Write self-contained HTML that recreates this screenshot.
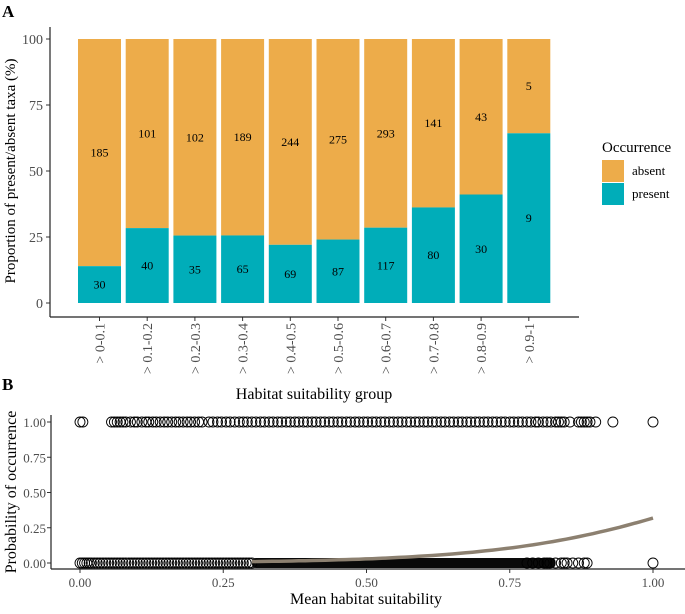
<!DOCTYPE html>
<html><head><meta charset="utf-8"><style>
body{margin:0;background:#fff}
svg text{font-family:"Liberation Serif",serif}
</style></head><body>
<svg id="c" width="685" height="609" xmlns="http://www.w3.org/2000/svg">
<text x="2" y="17" font-size="17" font-weight="bold">A</text>
<text x="2" y="390" font-size="17" font-weight="bold">B</text>
<g id="pa"></g>
<g id="pb"></g>
</svg>
<script>
const categories=["> 0-0.1","> 0.1-0.2","> 0.2-0.3","> 0.3-0.4","> 0.4-0.5","> 0.5-0.6","> 0.6-0.7","> 0.7-0.8","> 0.8-0.9","> 0.9-1"];
const presentCounts=[30,40,35,65,69,87,117,80,30,9];
const absentCounts=[185,101,102,189,244,275,293,141,43,5];
const yTicksA=[0,25,50,75,100];
const xTicksB=[0,0.25,0.5,0.75,1];
const xTickLabelsB=["0.00","0.25","0.50","0.75","1.00"];
const yTicksB=[0,0.25,0.5,0.75,1];
const yTickLabelsB=["0.00","0.25","0.50","0.75","1.00"];
const presentPoints=[0.0,0.005,0.055,0.06,0.065,0.07,0.075,0.08,0.088,0.095,0.1,0.108,0.115,0.12,0.127,0.133,0.14,0.147,0.153,0.16,0.167,0.173,0.18,0.187,0.193,0.2,0.207,0.213,0.225,0.232,0.24,0.247,0.255,0.262,0.27,0.278,0.285,0.292,0.3,0.307,0.315,0.322,0.33,0.337,0.345,0.352,0.36,0.367,0.375,0.382,0.39,0.397,0.405,0.412,0.42,0.427,0.435,0.442,0.45,0.457,0.465,0.472,0.48,0.487,0.495,0.502,0.51,0.517,0.525,0.532,0.54,0.547,0.555,0.562,0.57,0.577,0.585,0.592,0.6,0.607,0.615,0.622,0.63,0.637,0.645,0.652,0.66,0.667,0.675,0.682,0.69,0.697,0.705,0.712,0.72,0.727,0.735,0.742,0.75,0.757,0.765,0.772,0.78,0.787,0.795,0.8,0.808,0.815,0.822,0.83,0.835,0.84,0.845,0.855,0.87,0.875,0.88,0.885,0.89,0.9,0.93,1.0];
const absentPoints=[0.0,0.004,0.008,0.012,0.016,0.02,0.025,0.03,0.035,0.04,0.045,0.05,0.055,0.06,0.065,0.07,0.075,0.08,0.085,0.09,0.095,0.1,0.105,0.11,0.115,0.12,0.125,0.13,0.135,0.14,0.145,0.15,0.155,0.16,0.165,0.17,0.175,0.18,0.185,0.19,0.195,0.2,0.205,0.21,0.215,0.22,0.225,0.23,0.235,0.24,0.245,0.25,0.255,0.26,0.265,0.27,0.275,0.28,0.285,0.29,0.295,0.3,0.78,0.79,0.8,0.81,0.815,0.82,0.83,0.84,0.845,0.85,0.86,0.87,0.88,0.885,1.0];
const denseAbsentRange=[0.3,0.83];
const fitCoef=[-6.25,5.49];
const fitRange=[0.3,1.0];
const NS="http://www.w3.org/2000/svg";
function mk(p,t,a,txt){const e=document.createElementNS(NS,t);for(const k in a)e.setAttribute(k,a[k]);if(txt!==undefined)e.textContent=txt;p.appendChild(e);return e;}
// Panel A
const pa=document.getElementById('pa');
const yA=v=>303-v*(303-39)/100;
const xA=i=>99.5+i*47.7;
const bw=43;
yTicksA.forEach(v=>{
 let t=mk(pa,'text',{x:43,y:yA(v)+5,'font-size':14,fill:'#4d4d4d','text-anchor':'end'},String(v));
 
 
 mk(pa,'line',{x1:46,x2:50,y1:yA(v),y2:yA(v),stroke:'#333'});
});
categories.forEach((c,i)=>{
 const tot=presentCounts[i]+absentCounts[i];
 const pp=presentCounts[i]/tot*100;
 let ra=mk(pa,'rect',{x:xA(i)-bw/2,y:yA(100),width:bw,height:yA(pp)-yA(100),fill:'#EDAC4A'});
 
 
 let rp=mk(pa,'rect',{x:xA(i)-bw/2,y:yA(pp),width:bw,height:yA(0)-yA(pp),fill:'#00ADB9'});
 
 
 let la=mk(pa,'text',{x:xA(i),y:(yA(100)+yA(pp))/2+4,'font-size':12,'text-anchor':'middle'},String(absentCounts[i]));
 
 
 let lp=mk(pa,'text',{x:xA(i),y:(yA(pp)+yA(0))/2+4,'font-size':12,'text-anchor':'middle'},String(presentCounts[i]));
 
 
 mk(pa,'line',{x1:xA(i),x2:xA(i),y1:317,y2:321,stroke:'#333'});
 let xl=mk(pa,'text',{x:0,y:0,'font-size':14,fill:'#4d4d4d','text-anchor':'end',transform:`translate(${xA(i)+5},323) rotate(-90)`},c);
 
 
});
mk(pa,'line',{x1:50,x2:50,y1:27,y2:317,stroke:'#222','stroke-width':1.2});
mk(pa,'line',{x1:50,x2:579,y1:317,y2:317,stroke:'#222','stroke-width':1.2});
let ta=mk(pa,'text',{x:0,y:0,'font-size':15,'text-anchor':'middle',transform:'translate(15,171) rotate(-90)'},'Proportion of present/absent taxa (%)');

let tx=mk(pa,'text',{x:314,y:399,'font-size':16,'text-anchor':'middle'},'Habitat suitability group');

let lt=mk(pa,'text',{x:602,y:152,'font-size':15},'Occurrence');

[['absent','#EDAC4A',160],['present','#00ADB9',183]].forEach(([n,col,y])=>{
 let r=mk(pa,'rect',{x:602,y:y,width:22,height:22,fill:col});
 
 let t=mk(pa,'text',{x:632,y:y+15,'font-size':13},n);
 
});
// Panel B
const pb=document.getElementById('pb');
const xB=v=>80+v*573;
const yB=v=>563-v*141;
yTicksB.forEach((v,i)=>{
 let t=mk(pb,'text',{x:46,y:yB(v)+5,'font-size':13,fill:'#4d4d4d','text-anchor':'end'},yTickLabelsB[i]);
 
 mk(pb,'line',{x1:47,x2:51,y1:yB(v),y2:yB(v),stroke:'#333'});
});
xTicksB.forEach((v,i)=>{
 let t=mk(pb,'text',{x:xB(v),y:587,'font-size':13,fill:'#4d4d4d','text-anchor':'middle'},xTickLabelsB[i]);
 
 mk(pb,'line',{x1:xB(v),x2:xB(v),y1:569,y2:573,stroke:'#333'});
});
let dr=mk(pb,'rect',{x:xB(denseAbsentRange[0]),y:yB(0)-5,width:xB(denseAbsentRange[1])-xB(denseAbsentRange[0]),height:10,rx:4,fill:'#0a0a0a'});

presentPoints.forEach(v=>{
 let c=mk(pb,'circle',{cx:xB(v),cy:yB(1),r:5,fill:'none',stroke:'#000','stroke-width':0.9});
 
});
absentPoints.forEach(v=>{
 let c=mk(pb,'circle',{cx:xB(v),cy:yB(0),r:5,fill:'none',stroke:'#000','stroke-width':0.9});
 
});
let d='';
for(let k=0;k<=60;k++){const x=fitRange[0]+(fitRange[1]-fitRange[0])*k/60;const p=1/(1+Math.exp(-(fitCoef[0]+fitCoef[1]*x)));d+=(k?'L':'M')+xB(x).toFixed(1)+','+yB(p).toFixed(1);}
let fl=mk(pb,'path',{d:d,fill:'none',stroke:'#8C8070','stroke-width':3.5});

mk(pb,'line',{x1:51,x2:51,y1:415,y2:569,stroke:'#222','stroke-width':1.2});
mk(pb,'line',{x1:51,x2:685,y1:569,y2:569,stroke:'#222','stroke-width':1.2});
let tyb=mk(pb,'text',{x:0,y:0,'font-size':16,'text-anchor':'middle',transform:'translate(16,492) rotate(-90)'},'Probability of occurrence');

let txb=mk(pb,'text',{x:366,y:604,'font-size':16,'text-anchor':'middle'},'Mean habitat suitability');

</script>
</body></html>
